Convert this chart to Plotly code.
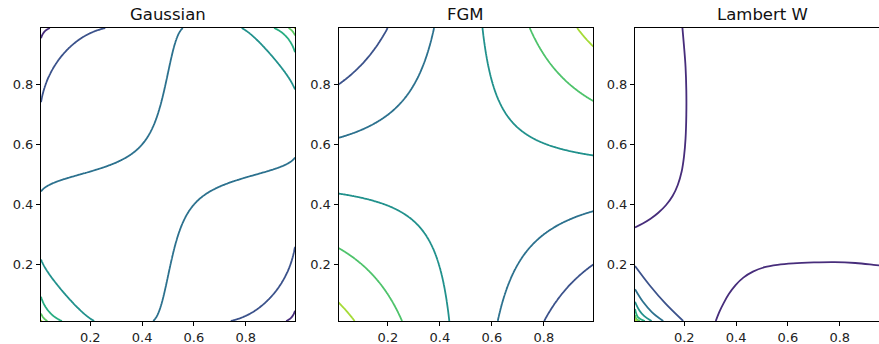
import numpy as np
import statistics
import plotly.graph_objects as go

# ---------------- data ----------------
grid_lo, grid_hi, grid_n = 0.01, 0.99, 300
titles = ["Gaussian", "FGM", "Lambert W"]
tick_vals = [0.2, 0.4, 0.6, 0.8]
tick_text = ["0.2", "0.4", "0.6", "0.8"]

# Gaussian copula
gauss_rho = 0.15
gauss_levels = [0.5, 0.75, 1.0, 1.25, 1.5, 1.75, 2.0]
gauss_colors = ["#472d7b", "#3b528b", "#2c718e", "#21918c", "#27ad81", "#5ec962", "#aadc32"]

# FGM copula
fgm_theta = 0.7
fgm_levels = [0.587, 0.832, 1.0875, 1.337, 1.587]
fgm_colors = ["#3b528b", "#2c718e", "#21918c", "#4ec36b", "#a5db36"]

# Lambert W copula: contour lines (u, v, colour)
lam_lines = [
    # lowest level, vertical branch
    ([0.01, 0.04, 0.07, 0.10, 0.13, 0.155, 0.175, 0.19, 0.199, 0.205, 0.208, 0.208, 0.205, 0.199, 0.193],
     [0.323, 0.336, 0.352, 0.372, 0.398, 0.428, 0.465, 0.51, 0.56, 0.62, 0.70, 0.78, 0.86, 0.93, 0.99],
     "#472d7b"),
    # lowest level, horizontal branch
    ([0.3215, 0.335, 0.352, 0.372, 0.398, 0.428, 0.465, 0.51, 0.56, 0.62, 0.70, 0.78, 0.86, 0.93, 0.99],
     [0.01, 0.04, 0.07, 0.10, 0.13, 0.155, 0.175, 0.19, 0.198, 0.203, 0.206, 0.207, 0.204, 0.198, 0.192],
     "#472d7b"),
    ([0.01, 0.068, 0.128, 0.196], [0.194, 0.128, 0.068, 0.01], "#3b528b"),
    ([0.01, 0.04, 0.075, 0.119], [0.116, 0.075, 0.04, 0.01], "#2c718e"),
    ([0.01, 0.027, 0.045, 0.074], [0.074, 0.045, 0.027, 0.01], "#21918c"),
    ([0.01, 0.022, 0.048], [0.05, 0.022, 0.01], "#27ad81"),
    ([0.01, 0.016, 0.029], [0.03, 0.016, 0.01], "#5ec962"),
    ([0.01, 0.013, 0.017], [0.017, 0.013, 0.01], "#aadc32"),
]

# ---------------- densities ----------------
u = np.linspace(grid_lo, grid_hi, grid_n)
nd = statistics.NormalDist()
q = np.array([nd.inv_cdf(t) for t in u])
QX, QY = np.meshgrid(q, q)
r = gauss_rho
z_gauss = 1.0 / np.sqrt(1 - r**2) * np.exp(-(r**2 * (QX**2 + QY**2) - 2 * r * QX * QY) / (2 * (1 - r**2)))
U, V = np.meshgrid(u, u)
z_fgm = 1 + fgm_theta * (1 - 2 * U) * (1 - 2 * V)

fig = go.Figure()
LW = 1.8

def add_levels(z, levels, colors, xa, ya):
    for lev, col in zip(levels, colors):
        fig.add_trace(go.Contour(
            x=u, y=u, z=z, xaxis=xa, yaxis=ya,
            autocontour=False,
            contours=dict(start=lev, end=lev, size=1, coloring="lines", showlabels=False),
            colorscale=[[0, col], [1, col]], showscale=False,
            line=dict(width=LW, smoothing=1), hoverinfo="skip"))

add_levels(z_gauss, gauss_levels, gauss_colors, "x", "y")
add_levels(z_fgm, fgm_levels, fgm_colors, "x2", "y2")
for lu, lv, col in lam_lines:
    fig.add_trace(go.Scatter(x=lu, y=lv, mode="lines", xaxis="x3", yaxis="y3",
                             line=dict(color=col, width=LW, shape="spline", smoothing=1),
                             hoverinfo="skip", showlegend=False))

W, H = 879, 344
top_px, bot_px = 28, 321
ydom = [1 - bot_px / H, 1 - top_px / H]
xdoms = [[41 / W, 295 / W], [338.5 / W, 593.3 / W], [635 / W, 1.0]]
xranges = [[grid_lo, grid_hi], [grid_lo, grid_hi], [grid_lo, grid_lo + (W - 635) / 259.2]]

axis_common = dict(showgrid=False, zeroline=False, showline=True, linecolor="black", linewidth=1,
                   ticks="outside", ticklen=4, tickwidth=1, tickcolor="black",
                   tickvals=tick_vals, ticktext=tick_text,
                   tickfont=dict(family="DejaVu Sans", size=13, color="#222"))
layout = dict(width=W, height=H, margin=dict(l=0, r=0, t=0, b=0),
              paper_bgcolor="white", plot_bgcolor="white", showlegend=False)
annotations = []
for i in range(3):
    sx = "" if i == 0 else str(i + 1)
    layout["xaxis" + sx] = dict(axis_common, domain=xdoms[i], range=xranges[i], mirror=True,
                                anchor="y" + sx)
    layout["yaxis" + sx] = dict(axis_common, domain=ydom, range=[grid_lo, grid_hi],
                                mirror=(i < 2), anchor="x" + sx)
    cx = (xdoms[i][0] + (xdoms[i][0] + 254 / W)) / 2
    annotations.append(dict(text=titles[i], x=cx, y=1 - 14.5 / H, xref="paper", yref="paper",
                            xanchor="center", yanchor="middle", showarrow=False,
                            font=dict(family="DejaVu Sans", size=16.5, color="#111")))
layout["annotations"] = annotations
fig.update_layout(**layout)
fig.write_html("out.html")
